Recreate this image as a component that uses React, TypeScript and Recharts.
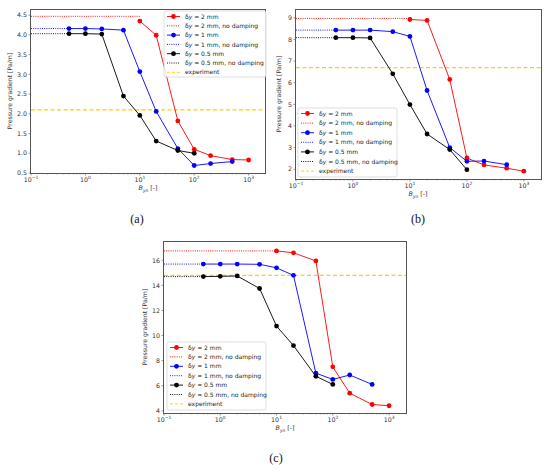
import React from 'react';
import { LineChart, Line, XAxis, YAxis, ReferenceLine } from 'recharts';

// x positions (B_yn) of each series
const xRed = [10, 20, 50, 100, 200, 500, 1000];
const xBlue = [0.5, 1, 2, 5, 10, 20, 50, 100, 200, 500];
const xBlack = [0.5, 1, 2, 5, 10, 20, 50, 100];

// panel (a)
const redA = [4.35, 3.99, 1.82, 1.1, 0.94, 0.84, 0.83];
const blueA = [4.16, 4.16, 4.15, 4.12, 3.07, 2.06, 1.12, 0.69, 0.74, 0.79];
const blackA = [4.03, 4.03, 4.02, 2.45, 1.96, 1.31, 1.07, 1.0];
const noDampA = [4.47, 4.16, 4.03];
const expA = 2.1;
const yTicksA = [0.5, 1.0, 1.5, 2.0, 2.5, 3.0, 3.5, 4.0, 4.5];

// panel (b)
const redB = [8.92, 8.88, 6.15, 2.52, 2.2, 2.05, 1.91];
const blueB = [8.43, 8.43, 8.43, 8.36, 8.14, 5.64, 3.0, 2.37, 2.38, 2.21];
const blackB = [8.08, 8.08, 8.07, 6.41, 4.99, 3.63, 2.91, 1.98];
const noDampB = [8.97, 8.43, 8.08];
const expB = 6.7;
const yTicksB = [2, 3, 4, 5, 6, 7, 8, 9];

// panel (c)
const redC = [16.75, 16.6, 15.95, 7.5, 5.4, 4.5, 4.4];
const blueC = [15.7, 15.7, 15.7, 15.68, 15.4, 14.8, 7.0, 6.5, 6.85, 6.1];
const blackC = [14.7, 14.72, 14.75, 13.75, 10.75, 9.2, 6.75, 6.1];
const noDampC = [16.75, 15.7, 14.7];
const expC = 14.8;
const yTicksC = [4, 6, 8, 10, 12, 14, 16];

const xDomain = [0.1, 2000];
const majorTicks = [0.1, 1, 10, 100, 1000];
const minorTicks = [
  0.2, 0.3, 0.4, 0.5, 0.6, 0.7, 0.8, 0.9,
  2, 3, 4, 5, 6, 7, 8, 9,
  20, 30, 40, 50, 60, 70, 80, 90,
  200, 300, 400, 500, 600, 700, 800, 900, 2000,
];
const xTicks = [...majorTicks, ...minorTicks].sort((a, b) => a - b);

const legendSizes = ['2', '1', '0.5'];
const colors = ['#ff0000', '#0000ff', '#000000'];
const expColor = '#ffd000';
const frame = '#555';
const font = 'DejaVu Sans, sans-serif';

const pts = (xs: number[], ys: number[]) => xs.map((x, i) => ({ x, y: ys[i] }));

const panels = [
  {
    id: 'a', left: 0, top: 0, width: 275, height: 205,
    margin: { top: 10, left: 6, right: 10, bottom: 12 }, yw: 25, xh: 20,
    yDomain: [0.5, 4.63], yTicks: yTicksA, fixed: 1,
    series: [redA, blueA, blackA], noDamp: noDampA, exp: expA,
    ylabel: { x: 12, y: 91 }, xlabel: { x: 148, y: 190 },
    legend: { x: 164, y: 11, w: 102, h: 66, step: 9.3 },
    caption: { x: 137, y: 223 },
  },
  {
    id: 'b', left: 275, top: 0, width: 275, height: 205,
    margin: { top: 10, left: 3, right: 9, bottom: 6 }, yw: 18, xh: 20,
    yDomain: [1.55, 9.36], yTicks: yTicksB, fixed: 0,
    series: [redB, blueB, blackB], noDamp: noDampB, exp: expB,
    ylabel: { x: 281, y: 94 }, xlabel: { x: 418, y: 196 },
    legend: { x: 298, y: 108, w: 99, h: 69, step: 9.6 },
    caption: { x: 418, y: 223 },
  },
  {
    id: 'c', left: 130, top: 235, width: 290, height: 200,
    margin: { top: 7, left: 9, right: 14, bottom: 2 }, yw: 25, xh: 20,
    yDomain: [3.82, 17.46], yTicks: yTicksC, fixed: 0,
    series: [redC, blueC, blackC], noDamp: noDampC, exp: expC,
    ylabel: { x: 147, y: 327 }, xlabel: { x: 285, y: 430 },
    legend: { x: 167, y: 342, w: 99, h: 68, step: 9.4 },
    caption: { x: 276, y: 462 },
  },
];

const XTick = (props: any) => {
  const { x, y, payload } = props;
  const lg = Math.log10(payload.value);
  const e = Math.round(lg);
  const major = Math.abs(lg - e) < 1e-6;
  return (
    <g>
      <line x1={x} x2={x} y1={y} y2={y + (major ? 2.5 : 1.4)} stroke={frame} strokeWidth={0.6} />
      {major && (
        <text x={x} y={y + 9} textAnchor="middle" fontSize={6.3} fill="#333" fontFamily={font}>
          10<tspan dy={-2.6} fontSize={4.4}>{e < 0 ? `\u2212${-e}` : e}</tspan>
        </text>
      )}
    </g>
  );
};

const makeYTick = (fixed: number) => (props: any) => {
  const { x, y, payload } = props;
  return (
    <g>
      <line x1={x - 2.5} x2={x} y1={y} y2={y} stroke={frame} strokeWidth={0.6} />
      <text x={x - 4} y={y + 2.2} textAnchor="end" fontSize={6.3} fill="#333" fontFamily={font}>
        {payload.value.toFixed(fixed)}
      </text>
    </g>
  );
};

// axes frame around the plot area of each LineChart (same layout numbers as the chart)
const Frame = ({ p }: { p: (typeof panels)[number] }) => (
  <div
    style={{
      position: 'absolute',
      zIndex: 5,
      left: p.left + p.margin.left + p.yw - 1,
      top: p.top + p.margin.top - 1,
      width: p.width - p.margin.left - p.yw - p.margin.right + 2,
      height: p.height - p.margin.top - p.margin.bottom - p.xh + 2,
      border: `1.5px solid ${frame}`,
      boxSizing: 'border-box',
      pointerEvents: 'none',
    }}
  />
);

const Panel = ({ p }: { p: (typeof panels)[number] }) => {
  const xs = [xRed, xBlue, xBlack];
  const YTick = makeYTick(p.fixed);
  return (
    <div style={{ position: 'absolute', left: p.left, top: p.top }}>
      <LineChart width={p.width} height={p.height} margin={p.margin}>
        <XAxis
          dataKey="x"
          type="number"
          scale="log"
          domain={xDomain}
          allowDataOverflow
          ticks={xTicks}
          interval={0}
          height={p.xh}
          axisLine={false}
          tickLine={false}
          tickSize={0}
          tickMargin={0}
          tick={(t: any) => <XTick {...t} />}
        />
        <YAxis
          type="number"
          domain={p.yDomain}
          allowDataOverflow
          ticks={p.yTicks}
          interval={0}
          width={p.yw}
          axisLine={false}
          tickLine={false}
          tickSize={0}
          tickMargin={0}
          tick={(t: any) => <YTick {...t} />}
        />
        <ReferenceLine y={p.exp} stroke={expColor} strokeWidth={1.2} strokeDasharray="4 2.5" />
        {p.series.map((ys, i) => (
          <Line
            key={`nd${i}`}
            data={pts([xDomain[0], xs[i][0]], [p.noDamp[i], p.noDamp[i]])}
            dataKey="y"
            stroke={colors[i]}
            strokeWidth={0.9}
            strokeDasharray="1 1.2"
            dot={false}
            isAnimationActive={false}
          />
        ))}
        {p.series.map((ys, i) => (
          <Line
            key={`s${i}`}
            data={pts(xs[i], ys)}
            dataKey="y"
            stroke={colors[i]}
            strokeWidth={0.9}
            dot={{ r: 2.4, fill: colors[i], stroke: colors[i], strokeWidth: 0 }}
            isAnimationActive={false}
          />
        ))}
      </LineChart>
    </div>
  );
};

const Overlay = () => (
  <svg width={550} height={472} style={{ position: 'absolute', left: 0, top: 0, zIndex: 6, pointerEvents: 'none' }}>
    {panels.map((p) => {
      const L = p.legend;
      const rows: { label: React.ReactNode; color: string; kind: 'solid' | 'dot' | 'dash' }[] = [];
      legendSizes.forEach((s, i) => {
        rows.push({ label: <>{'\u03B4'}<tspan fontStyle="italic">y</tspan>{` = ${s} mm`}</>, color: colors[i], kind: 'solid' });
        rows.push({ label: <>{'\u03B4'}<tspan fontStyle="italic">y</tspan>{` = ${s} mm, no damping`}</>, color: colors[i], kind: 'dot' });
      });
      rows.push({ label: 'experiment', color: expColor, kind: 'dash' });
      return (
        <g key={p.id}>
          <text
            transform={`translate(${p.ylabel.x},${p.ylabel.y}) rotate(-90)`}
            textAnchor="middle"
            fontSize={6.2}
            fill="#333"
            fontFamily={font}
          >
            Pressure gradient [Pa/m]
          </text>
          <text x={p.xlabel.x} y={p.xlabel.y} textAnchor="middle" fontSize={6.3} fill="#333" fontFamily={font}>
            <tspan fontStyle="italic">B</tspan>
            <tspan fontSize={4.4} dy={1.6} fontStyle="italic">yn</tspan>
            <tspan dy={-1.6}> [-]</tspan>
          </text>
          <rect x={L.x} y={L.y} width={L.w} height={L.h} rx={2} fill="#fff" fillOpacity={0.85} stroke="#d0d0d0" strokeWidth={0.7} />
          {rows.map((r, k) => {
            const cy = L.y + 5.5 + k * L.step;
            const hx1 = L.x + 3;
            const hx2 = L.x + 16;
            return (
              <g key={k}>
                <line
                  x1={hx1}
                  x2={hx2}
                  y1={cy}
                  y2={cy}
                  stroke={r.color}
                  strokeWidth={0.9}
                  strokeDasharray={r.kind === 'dot' ? '1 1.2' : r.kind === 'dash' ? '3 2' : undefined}
                />
                {r.kind === 'solid' && <circle cx={(hx1 + hx2) / 2} cy={cy} r={2.4} fill={r.color} />}
                <text x={L.x + 21} y={cy + 2.1} fontSize={6} fill="#222" fontFamily={font}>
                  {r.label}
                </text>
              </g>
            );
          })}
          <text x={p.caption.x} y={p.caption.y} textAnchor="middle" fontSize={12} fill="#111" fontFamily="Liberation Serif, serif">
            ({p.id})
          </text>
        </g>
      );
    })}
  </svg>
);

export default function App() {
  return (
    <div style={{ position: 'absolute', left: 0, top: 0, width: 550, height: 472, background: '#fff' }}>
      {panels.map((p) => (
        <Panel key={p.id} p={p} />
      ))}
      {panels.map((p) => (
        <Frame key={`f${p.id}`} p={p} />
      ))}
      <Overlay />
    </div>
  );
}
